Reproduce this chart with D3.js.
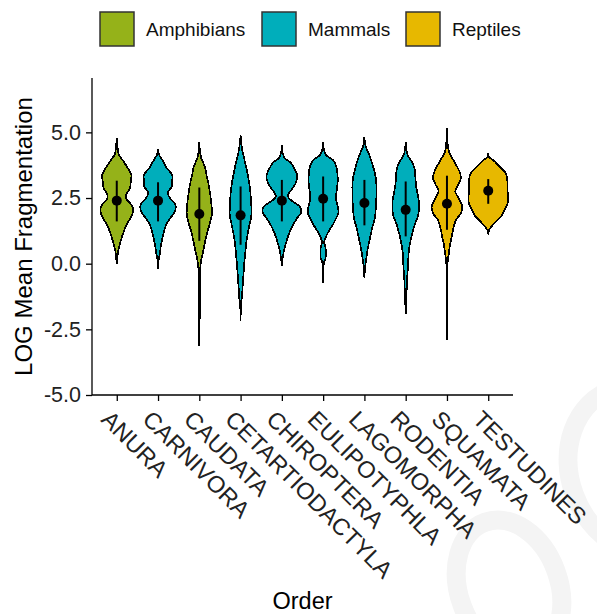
<!DOCTYPE html>
<html>
<head>
<meta charset="utf-8">
<script src="https://cdn.jsdelivr.net/npm/d3@7"></script>
<style>
  body { margin: 0; background: #fff; }
  text { font-family: "Liberation Sans", Arial, sans-serif; }
</style>
</head>
<body>
<svg id="chart" width="597" height="614"></svg>
<script>
// ---- data ----
const orders = ["ANURA", "CARNIVORA", "CAUDATA", "CETARTIODACTYLA", "CHIROPTERA",
                "EULIPOTYPHLA", "LAGOMORPHA", "RODENTIA", "SQUAMATA", "TESTUDINES"];
const classes = ["Amphibians", "Mammals", "Amphibians", "Mammals", "Mammals",
                 "Mammals", "Mammals", "Mammals", "Reptiles", "Reptiles"];
const classNames = ["Amphibians", "Mammals", "Reptiles"];
const classColors = ["#95b219", "#00aebb", "#e7b800"];

const means = [2.40, 2.40, 1.89, 1.84, 2.40, 2.47, 2.31, 2.05, 2.28, 2.78];
const sdLow = [1.61, 1.61, 0.87, 0.72, 1.61, 1.61, 1.46, 1.04, 1.29, 2.28];
const sdHigh = [3.16, 3.10, 2.90, 2.94, 3.19, 3.32, 3.19, 3.13, 3.35, 3.22];

// density profiles: [value, relative density]
const densities = [
  [[4.78,0],[4.5,0.03],[4.17,0.1],[3.89,0.35],[3.6,0.6],[3.38,0.75],[3.1,0.72],[2.88,0.68],[2.62,0.48],[2.45,0.5],[2.3,0.7],[2.12,0.83],[1.93,0.82],[1.7,0.68],[1.48,0.5],[1.2,0.35],[0.98,0.25],[0.7,0.14],[0.47,0.07],[0.2,0.03],[0.0,0]],
  [[4.37,0],[4.2,0.03],[4.08,0.1],[3.85,0.3],[3.64,0.45],[3.38,0.73],[3.15,0.73],[2.94,0.71],[2.69,0.5],[2.5,0.62],[2.24,0.9],[1.99,0.87],[1.75,0.65],[1.48,0.42],[1.2,0.3],[0.98,0.23],[0.7,0.15],[0.41,0.1],[0.2,0.04],[-0.19,0]],
  [[4.65,0],[4.3,0.03],[4.02,0.1],[3.7,0.28],[3.38,0.37],[3.05,0.47],[2.75,0.54],[2.3,0.62],[1.89,0.65],[1.55,0.55],[1.23,0.42],[0.85,0.3],[0.47,0.2],[0.15,0.1],[-0.16,0.05],[-0.5,0.03],[-1.0,0.02],[-2.0,0.02],[-3.14,0]],
  [[4.9,0],[4.6,0.03],[4.27,0.1],[3.8,0.25],[3.38,0.37],[2.9,0.48],[2.5,0.53],[1.86,0.56],[1.55,0.48],[1.23,0.39],[0.85,0.3],[0.47,0.25],[0.1,0.2],[-0.29,0.16],[-0.6,0.13],[-0.92,0.1],[-1.3,0.07],[-1.45,0.03],[-2.19,0]],
  [[4.52,0],[4.25,0.03],[4.02,0.15],[3.85,0.45],[3.64,0.63],[3.4,0.78],[3.26,0.79],[3.05,0.7],[2.88,0.56],[2.7,0.38],[2.56,0.31],[2.4,0.5],[2.18,0.92],[1.96,1.0],[1.75,0.8],[1.48,0.58],[1.2,0.4],[0.98,0.29],[0.7,0.18],[0.47,0.1],[0.2,0.04],[-0.1,0]],
  [[4.65,0],[4.4,0.03],[4.14,0.15],[3.95,0.5],[3.71,0.68],[3.4,0.74],[3.13,0.75],[2.8,0.7],[2.5,0.66],[2.2,0.75],[1.93,0.79],[1.7,0.65],[1.48,0.5],[1.25,0.3],[0.98,0.12],[0.79,0.05],[0.7,0.1],[0.5,0.14],[0.2,0.12],[0.05,0.04],[-0.2,0.02],[-0.73,0]],
  [[4.84,0],[4.6,0.03],[4.4,0.1],[4.15,0.25],[3.89,0.37],[3.5,0.52],[3.13,0.61],[2.75,0.62],[2.37,0.61],[2.05,0.58],[1.74,0.54],[1.35,0.4],[0.98,0.29],[0.6,0.18],[0.22,0.1],[-0.1,0.04],[-0.54,0]],
  [[4.65,0],[4.4,0.03],[4.14,0.1],[3.9,0.3],[3.64,0.45],[3.3,0.5],[3.0,0.53],[2.7,0.6],[2.37,0.68],[2.1,0.68],[1.86,0.65],[1.5,0.47],[1.1,0.32],[0.8,0.23],[0.47,0.16],[0.1,0.13],[-0.29,0.1],[-0.6,0.07],[-0.99,0.05],[-1.3,0.03],[-1.91,0]],
  [[5.16,0],[4.7,0.02],[4.27,0.1],[4.05,0.25],[3.83,0.42],[3.5,0.65],[3.26,0.72],[3.0,0.58],[2.75,0.43],[2.5,0.6],[2.16,0.79],[1.9,0.7],[1.67,0.47],[1.35,0.33],[1.04,0.25],[0.7,0.15],[0.41,0.1],[0.1,0.04],[-0.3,0.02],[-1.5,0.02],[-2.89,0]],
  [[4.23,0],[4.05,0.05],[3.95,0.25],[3.7,0.58],[3.5,0.85],[3.32,0.96],[2.75,1.0],[2.31,1.0],[2.05,0.85],[1.8,0.66],[1.6,0.4],[1.42,0.17],[1.3,0.06],[1.17,0]]
];

const yTicks = [-5.0, -2.5, 0.0, 2.5, 5.0];

// ---- layout ----
const svg = d3.select("#chart");
const plotL = 92, plotR = 513, plotT = 78, plotB = 395;

// faint watermark rings, bottom right
const wm = svg.append("g").attr("fill", "none").attr("stroke", "#f4f4f4").attr("stroke-width", 19);
wm.append("ellipse")
  .attr("cx", 509).attr("cy", 588).attr("rx", 50).attr("ry", 70)
  .attr("transform", "rotate(-20 509 588)");
wm.append("ellipse")
  .attr("cx", 640).attr("cy", 470).attr("rx", 70).attr("ry", 85)
  .attr("transform", "rotate(-20 640 470)");

const x = d3.scalePoint().domain(orders).range([plotL, plotR]).padding(0.6);
const y = d3.scaleLinear().domain([-5, 7.07]).range([plotB, plotT]);
const color = d3.scaleOrdinal().domain(classNames).range(classColors);
const w = d3.scaleLinear()
  .domain([0, d3.max(densities, p => d3.max(p, d => d[1]))])
  .range([0, x.step() * 0.47]);

// violins
const g = svg.append("g");
orders.forEach((o, i) => {
  const cx = x(o);
  const area = d3.area()
    .y(d => y(d[0]))
    .x0(d => cx - w(d[1]))
    .x1(d => cx + w(d[1]))
    .curve(d3.curveCatmullRom.alpha(0.5));
  g.append("path")
    .attr("d", area(densities[i]))
    .attr("fill", color(classes[i]))
    .attr("stroke", "#000")
    .attr("stroke-width", 1.7)
    .attr("shape-rendering", "crispEdges");
  g.append("line")
    .attr("x1", cx).attr("x2", cx)
    .attr("y1", y(sdLow[i])).attr("y2", y(sdHigh[i]))
    .attr("stroke", "#000").attr("stroke-width", 2);
  g.append("circle")
    .attr("cx", cx).attr("cy", y(means[i])).attr("r", 5)
    .attr("fill", "#000");
});

// y axis
const yAxis = svg.append("g")
  .attr("transform", `translate(${plotL},0)`)
  .call(d3.axisLeft(y).tickValues(yTicks).tickFormat(d => d.toFixed(1)).tickSize(6).tickSizeOuter(0).tickPadding(5));
yAxis.select(".domain").attr("d", `M0,${plotB}V${plotT}`);
yAxis.selectAll("path,line").attr("stroke", "#000").attr("stroke-width", 1.3);
yAxis.selectAll("text").attr("font-size", 21.5).attr("fill", "#222")
  .attr("font-family", "Liberation Sans, Arial, sans-serif");

// x axis
const xAxis = svg.append("g")
  .attr("transform", `translate(0,${plotB})`)
  .call(d3.axisBottom(x).tickSize(6).tickSizeOuter(0).tickFormat(""));
xAxis.select(".domain").attr("d", `M${plotL},0H${plotR}`);
xAxis.selectAll("path,line").attr("stroke", "#000").attr("stroke-width", 1.3);

svg.append("g").selectAll("text")
  .data(orders)
  .join("text")
  .attr("transform", d => `translate(${x(d) - 5},${plotB + 14}) rotate(45)`)
  .attr("dy", "0.71em")
  .attr("font-size", 23.5)
  .attr("fill", "#222")
  .text(d => d);

// axis titles
svg.append("text")
  .attr("transform", `translate(32,${(plotT + plotB) / 2}) rotate(-90)`)
  .attr("text-anchor", "middle")
  .attr("font-size", 24)
  .attr("fill", "#000")
  .text("LOG Mean Fragmentation");

svg.append("text")
  .attr("x", (plotL + plotR) / 2).attr("y", 609)
  .attr("text-anchor", "middle")
  .attr("font-size", 23.5)
  .attr("fill", "#000")
  .text("Order");

// legend
const legX = [100, 262, 406];
const leg = svg.append("g");
classNames.forEach((c, i) => {
  leg.append("rect")
    .attr("x", legX[i]).attr("y", 12).attr("width", 34).attr("height", 34)
    .attr("fill", color(c)).attr("stroke", "#333").attr("stroke-width", 1.5);
  leg.append("text")
    .attr("x", legX[i] + 46).attr("y", 29).attr("dy", "0.35em")
    .attr("font-size", 19).attr("fill", "#111")
    .text(c);
});
</script>
</body>
</html>
